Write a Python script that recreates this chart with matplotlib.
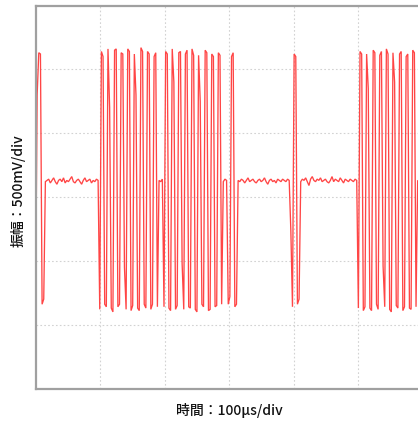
import numpy as np
import matplotlib
matplotlib.use("Agg")
import matplotlib.pyplot as plt

plt.rcParams['font.family'] = ['Noto Sans CJK JP', 'DejaVu Sans']

# sampling interval (µs) and start time
dt_us = 2.55
t0_us = 0.0

# signal segments (volts, 500 mV/div, 0 V at bottom of screen)
pulse0 = [0.64, 2.30, 2.63, 2.62, 0.66, 0.70]
base1 = [1.62, 1.63, 1.64, 1.61, 1.63, 1.65, 1.62, 1.60, 1.63, 1.64, 1.62,
         1.65, 1.61, 1.63, 1.62, 1.64, 1.66, 1.62, 1.61, 1.63, 1.64, 1.62,
         1.60, 1.63, 1.65, 1.62, 1.63, 1.64, 1.61, 1.63, 1.62, 1.64, 1.63]
burst1 = [0.62, 2.64, 2.60, 0.66, 0.64, 2.66, 2.20, 0.63, 0.60, 2.65, 2.66, 0.64,
          0.66, 2.63, 2.62, 0.95, 0.62, 2.66, 2.64, 0.61, 0.65, 2.62, 2.30, 0.63,
          0.61, 2.67, 2.64, 0.66, 0.63, 2.64, 2.62, 0.62, 0.66, 2.60, 2.63, 0.64]
base2 = [1.63, 1.62, 1.64]
burst2 = [0.64, 2.64, 2.62, 0.63, 0.61, 2.66, 2.40, 0.62, 0.65, 2.63, 2.64, 0.98,
          0.62, 2.62, 2.65, 0.64, 0.63, 2.66, 2.61, 0.62, 0.60, 2.61, 2.25, 0.66,
          0.64, 2.65, 2.63, 0.61, 0.62, 2.62, 2.60, 0.64, 0.65, 2.63, 2.61, 0.66]
base3 = [1.62, 1.64, 1.63]
pulse3 = [0.66, 0.72, 2.60, 2.63, 0.64, 0.66]
base4 = [1.63, 1.62, 1.64, 1.63, 1.61, 1.63, 1.65, 1.62, 1.63, 1.64, 1.62,
         1.61, 1.63, 1.64, 1.62, 1.63, 1.65, 1.62, 1.60, 1.63, 1.64, 1.62,
         1.63, 1.61, 1.64, 1.63, 1.62, 1.64, 1.63, 1.62, 1.64, 1.63]
pulse4 = [1.24, 0.64, 2.62, 2.60, 0.66, 0.70]
base5 = [1.62, 1.64, 1.63, 1.65, 1.62, 1.59, 1.64, 1.66, 1.63, 1.62, 1.64,
         1.63, 1.65, 1.62, 1.63, 1.64, 1.62, 1.61, 1.63, 1.66, 1.62, 1.64,
         1.63, 1.62, 1.65, 1.63, 1.61, 1.64, 1.63, 1.62, 1.64, 1.63, 1.62,
         1.64, 1.63]
burst3 = [0.63, 2.64, 2.62, 0.61, 0.64, 2.62, 2.35, 0.63, 0.61, 2.65, 2.63, 0.66,
          0.62, 2.61, 2.64, 0.96, 0.64, 2.66, 2.62, 0.62, 0.60, 2.63, 2.40, 0.65,
          0.63, 2.62, 2.64, 0.61, 0.64, 2.60, 2.62, 0.63, 0.62, 2.65, 2.63, 0.64]
base6 = [1.63, 1.62]

volts = np.array(pulse0 + base1 + burst1 + base2 + burst2 + base3 + pulse3 +
                 base4 + pulse4 + base5 + burst3 + base6)
t_us = t0_us + dt_us * np.arange(len(volts))

x_label = "時間：100μs/div"
y_label = "振幅：500mV/div"
x_grid = [100, 200, 300, 400, 500]
y_grid = [0.5, 1.0, 1.5, 2.0, 2.5]

W, H = 418, 423
fig = plt.figure(figsize=(W / 100, H / 100), dpi=100)
ax = fig.add_axes([35.5 / W, 1 - 388.5 / H, (W - 35.5) / W, 383 / H])

ax.plot(t_us, volts, color='#ff4545', lw=0.95, solid_joinstyle='miter')
ax.set_xlim(0, 382.5 / 64.6 * 100)
ax.set_ylim(0, 3.0)
ax.set_xticks(x_grid)
ax.set_yticks(y_grid)
ax.tick_params(length=0, labelbottom=False, labelleft=False)
ax.grid(True, color='#d2d2d2', lw=0.8, linestyle=(0, (1.5, 2)))
for side in ['left', 'top', 'bottom']:
    ax.spines[side].set_color('#a0a0a0')
    ax.spines[side].set_linewidth(1.6)
ax.spines['right'].set_visible(False)

fig.text(229 / W, 1 - 410 / H, x_label, ha='center', va='center',
         fontsize=10, color='#111111', fontweight='medium')
fig.text(18 / W, 1 - 191 / H, y_label, ha='center', va='center',
         rotation=90, fontsize=10, color='#111111', fontweight='medium')

fig.savefig("out.png", dpi=100)
